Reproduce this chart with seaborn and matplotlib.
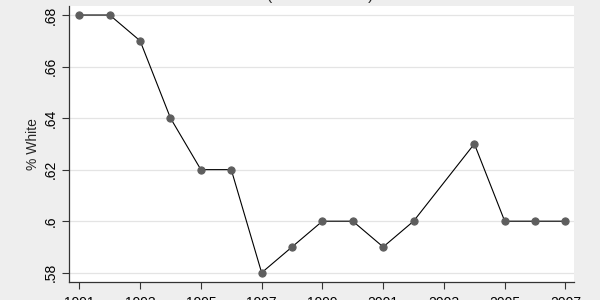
import matplotlib
matplotlib.use("Agg")
import matplotlib.pyplot as plt
import seaborn as sns
import pandas as pd

years = [1991, 1992, 1993, 1994, 1995, 1996, 1997, 1998, 1999, 2000,
         2001, 2002, 2004, 2005, 2006, 2007]
pct_white = [0.68, 0.68, 0.67, 0.64, 0.62, 0.62, 0.58, 0.59, 0.60, 0.60,
             0.59, 0.60, 0.63, 0.60, 0.60, 0.60]
y_ticks = [0.58, 0.60, 0.62, 0.64, 0.66, 0.68]
y_tick_labels = [".58", ".6", ".62", ".64", ".66", ".68"]
x_ticks = [1991, 1993, 1995, 1997, 1999, 2001, 2003, 2005, 2007]
title_text = "(Percent White)"
y_label = "% White"

sns.set_style("white")
plt.rcParams["font.family"] = ["Liberation Sans", "DejaVu Sans"]

df = pd.DataFrame({"year": years, "pct": pct_white})

fig = plt.figure(figsize=(6, 3), dpi=100, facecolor="#EEEEEE")
ax = fig.add_axes([69 / 600, 1 - 282 / 300, (574 - 69) / 600, (282 - 6) / 300])
ax.set_facecolor("white")

for t in y_ticks:
    ax.axhline(t, color="#E4E4E4", lw=0.9, zorder=0)

sns.lineplot(data=df, x="year", y="pct", ax=ax, color="black", lw=0.8,
             marker="o", markersize=5.2, markerfacecolor="#5E5E5E",
             markeredgecolor="#5E5E5E", zorder=3)

ax.set_xlim(1990.66, 2007.28)
ax.set_ylim(0.5764, 0.6835)
ax.set_yticks(y_ticks)
ax.set_yticklabels(y_tick_labels, rotation=90, va="center", fontsize=10)
ax.set_xticks(x_ticks)
ax.set_xticklabels([str(x) for x in x_ticks], fontsize=10)
ax.tick_params(axis="both", direction="out", length=5, width=0.8,
               color="#333333", labelcolor="black")
ax.tick_params(axis="y", left=True, pad=3)
ax.tick_params(axis="x", bottom=True, pad=5)
ax.set_xlabel("")
ax.set_ylabel(y_label, fontsize=10, labelpad=3)

for s in ["top", "right"]:
    ax.spines[s].set_visible(False)
for s in ["left", "bottom"]:
    ax.spines[s].set_color("#333333")
    ax.spines[s].set_linewidth(0.9)

fig.text(320.5 / 600, 1.0, title_text, ha="center", va="baseline", fontsize=11)

fig.savefig("out.png", dpi=100, facecolor=fig.get_facecolor())
